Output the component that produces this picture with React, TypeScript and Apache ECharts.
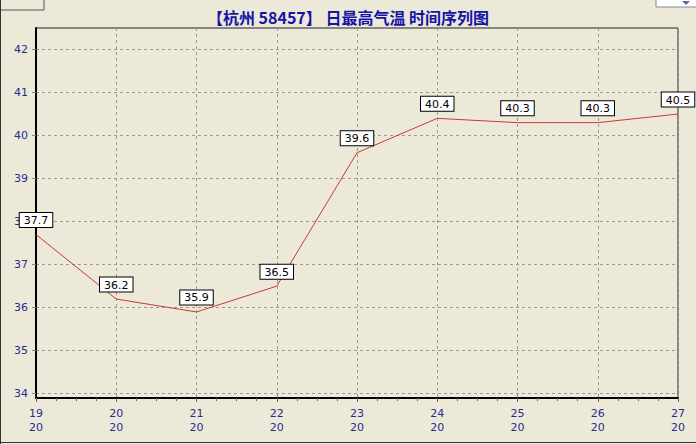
import React, { useEffect, useRef } from "react";
import * as echarts from "echarts";

const titleText = "【杭州 58457】 日最高气温 时间序列图";
const days = [19, 20, 21, 22, 23, 24, 25, 26, 27];
const hourLabel = "20";
const tmax = [37.7, 36.2, 35.9, 36.5, 39.6, 40.4, 40.3, 40.3, 40.5];
const yTicks = [34, 35, 36, 37, 38, 39, 40, 41, 42];

export default function App() {
  const ref = useRef<HTMLDivElement>(null);
  useEffect(() => {
    const chart = echarts.init(ref.current!, null, { renderer: "svg" });
    const font = "Tahoma, 'DejaVu Sans', sans-serif";
    chart.setOption({
      animation: false,
      backgroundColor: "#ECE9D8",
      title: {
        text: titleText,
        left: "center",
        top: 4,
        textStyle: {
          color: "#1414A8",
          fontSize: 16,
          fontWeight: "bold",
          fontFamily: "'Noto Sans CJK SC', sans-serif",
        },
      },
      grid: { left: 36, right: 18, top: 28, bottom: 46, show: true, borderColor: "#222", borderWidth: 1, backgroundColor: "transparent" },
      xAxis: {
        type: "value",
        min: days[0],
        max: days[days.length - 1],
        interval: 1,
        axisLine: { show: true, onZero: false, lineStyle: { color: "#000", width: 2 } },
        axisTick: { show: true, length: 4, inside: false, lineStyle: { color: "#666" } },
        minorTick: { show: true, splitNumber: 4, length: 3, lineStyle: { color: "#666" } },
        splitLine: { show: true, lineStyle: { color: "#999", type: [3, 3], width: 1 } },
        axisLabel: {
          color: "#2A2A90",
          fontSize: 11,
          fontFamily: font,
          lineHeight: 14,
          margin: 8,
          formatter: (v: number) => `${v}\n${hourLabel}`,
        },
      },
      yAxis: {
        type: "value",
        min: 33.9,
        max: 42.5,
        axisLine: { show: true, onZero: false, lineStyle: { color: "#000", width: 2 } },
        axisTick: { show: true, length: 4, customValues: yTicks, lineStyle: { color: "#888" } },
        splitLine: { show: true, lineStyle: { color: "#999", type: [3, 3], width: 1 } },
        axisLabel: {
          color: "#2A2A90",
          fontSize: 11,
          fontFamily: font,
          margin: 8,
          customValues: yTicks,
        },
      },
      series: [
        {
          type: "line",
          data: days.map((d, i) => [d, tmax[i]]),
          symbol: "circle",
          symbolSize: 1,
          showSymbol: true,
          itemStyle: { color: "rgba(0,0,0,0)" },
          lineStyle: { color: "#C83A3A", width: 1 },
          label: {
            show: true,
            position: "top",
            distance: 7,
            color: "#000",
            fontSize: 11,
            fontFamily: font,
            backgroundColor: "#fff",
            borderColor: "#000",
            borderWidth: 1,
            padding: [2, 4, 1, 4],
            formatter: (p: any) => p.value[1].toFixed(1),
          },
          z: 5,
        },
      ],
      graphic: [
        { type: "rect", shape: { x: 0, y: -1, width: 44, height: 11 }, style: { fill: "#ECE9D8", stroke: "#555", lineWidth: 1 } },
        { type: "rect", shape: { x: 656, y: -1, width: 42, height: 8 }, style: { fill: "#fff", stroke: "#888", lineWidth: 1 } },
        { type: "polygon", shape: { points: [[682, 1], [690, 1], [686, 5]] }, style: { fill: "#5570A0" } },
        { type: "line", shape: { x1: 0.5, y1: 0, x2: 0.5, y2: 444 }, style: { stroke: "#333", lineWidth: 1 } },
        { type: "line", shape: { x1: 0, y1: 442.5, x2: 696, y2: 442.5 }, style: { stroke: "#333", lineWidth: 1 } },
      ],
    });
    return () => chart.dispose();
  }, []);
  return <div ref={ref} style={{ width: 696, height: 444, position: "fixed", left: 0, top: 0 }} />;
}
